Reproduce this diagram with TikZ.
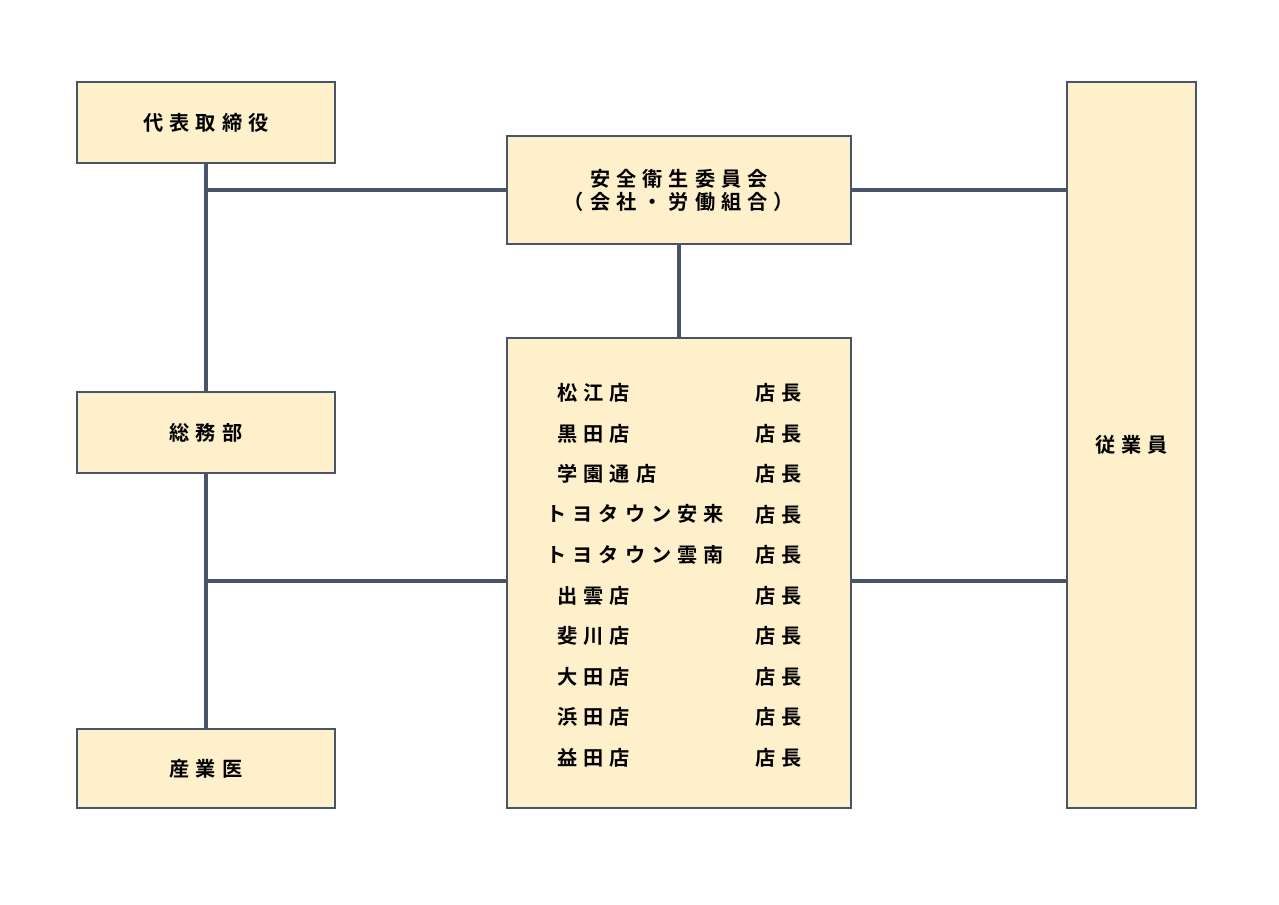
\documentclass[tikz,border=0pt]{standalone}
\usepackage{fontspec}
\setmainfont{Noto Sans CJK JP}[BoldFont={* Bold},LetterSpace=30]
\usetikzlibrary{positioning}
\definecolor{boxfill}{HTML}{FFF0CC}
\definecolor{boxline}{HTML}{4A5468}
\tikzset{
  box/.style={draw=boxline, line width=1.2pt, fill=boxfill, inner sep=0pt},
  lbl/.style={font=\bfseries\fontsize{11.5}{13}\selectfont, align=center},
  shop/.style={font=\bfseries\fontsize{11.5}{13}\selectfont, anchor=west, inner sep=0pt},
  link/.style={draw=boxline, line width=2pt}
}
\begin{document}
\begin{tikzpicture}[x=0.02cm,y=-0.02cm]
\useasboundingbox (0,0) rectangle (1279,904);

\node[box, minimum width=258*0.02cm, minimum height=81*0.02cm] (rep) at (206,122.5) {};
\node[lbl] at (rep) {代表取締役};
\node[box, minimum width=258*0.02cm, minimum height=81*0.02cm] (gen) at (206,432.5) {};
\node[lbl] at (gen) {総務部};
\node[box, minimum width=258*0.02cm, minimum height=79*0.02cm] (doc) at (206,768.5) {};
\node[lbl] at (doc) {産業医};
\node[box, minimum width=344*0.02cm, minimum height=108*0.02cm] (comm) at (679,190) {};
\node[lbl] at (comm) {安全衛生委員会\\（会社・労働組合）};
\node[box, minimum width=129*0.02cm, minimum height=726*0.02cm] (emp) at (1131.5,445) {};
\node[lbl] at (emp) {従業員};
\node[box, minimum width=344*0.02cm, minimum height=470*0.02cm] (shops) at (679,573) {};

% shops
\foreach \name [count=\i] in {松江店,黒田店,学園通店,,,出雲店,斐川店,大田店,浜田店,益田店} {
  \node[shop] (s\i) at (557,{393+40.5*(\i-1)}) {\name};
  \node[shop] (m\i) at (755,{393+40.5*(\i-1)}) {店長};
}
\node[shop] (t1) at (546,514) {トヨタウン安来};
\node[shop] (t2) at (546,554.5) {トヨタウン雲南};

% connectors
\draw[link] (rep.south) -- (gen.north);
\draw[link] (gen.south) -- (doc.north);
\coordinate (j1) at (rep.south |- comm.west);
\draw[link] (j1) -- (comm.west);
\draw[link] (comm.east) -- (comm.east -| emp.west);
\draw[link] (comm.south) -- (shops.north);
\coordinate (j2) at (206,581);
\draw[link] (j2) -- (j2 -| shops.west);
\draw[link] (j2 -| shops.east) -- (j2 -| emp.west);
\end{tikzpicture}
\end{document}
